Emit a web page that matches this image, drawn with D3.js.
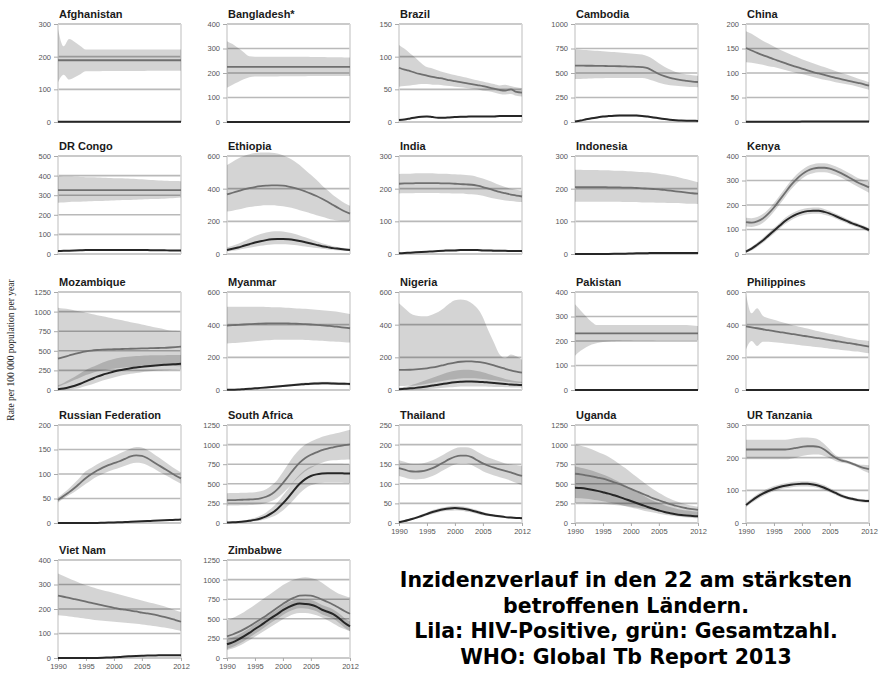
<!DOCTYPE html>
<html>
<head>
<meta charset="utf-8">
<script src="https://cdn.jsdelivr.net/npm/d3@7/dist/d3.min.js"></script>
<style>
  html, body { margin: 0; padding: 0; background: #fff; }
  svg { display: block; }
</style>
</head>
<body>
<svg id="chart" width="880" height="677"></svg>
<script>
// TB incidence 1990-2012 in the 22 high-burden countries (rate per 100 000 per year)
const years = [1990,1991,1992,1993,1994,1995,1996,1997,1998,1999,2000,2001,2002,2003,2004,2005,2006,2007,2008,2009,2010,2011,2012];
const xTicks = [1990, 1995, 2000, 2005, 2012];

const countries = ["Afghanistan","Bangladesh*","Brazil","Cambodia","China",
  "DR Congo","Ethiopia","India","Indonesia","Kenya",
  "Mozambique","Myanmar","Nigeria","Pakistan","Philippines",
  "Russian Federation","South Africa","Thailand","Uganda","UR Tanzania",
  "Viet Nam","Zimbabwe"];

const yMax  = [300,400,150,1000,200, 500,600,300,300,400, 1250,600,600,400,600, 200,1250,250,1250,300, 400,1250];
const yStep = [100,100,50,250,50, 100,200,100,100,100, 250,200,200,100,200, 50,250,50,250,100, 100,250];

// all TB cases: best estimate, lower and upper bound
const totalMid = [
  [189,189,189,189,189,189,189,189,189,189,189,189,189,189,189,189,189,189,189,189,189,189,189],
  [225,225,225,225,225,225,225,225,225,225,225,225,225,225,225,225,225,225,225,225,225,225,225],
  [83,80,78,75,73,71,69,67.5,66,64,62.5,61,59.5,58,56.5,55,53,51,49,48,50,46,45],
  [575,575,574,574,573,572,571,570,569,567,565,563,560,550,520,490,468,450,438,428,420,412,408],
  [151,146,141,136.5,132.5,128,124,120,116,112.5,109,105.5,102,99,96,93,90,87.5,85,82.5,80,77.5,74],
  [326,326,326,326,326,326,326,326,326,326,326,326,326,326,326,326,326,326,326,326,326,326,326],
  [365,375,385,395,403,410,415,418,420,420,418,413,405,395,383,370,355,338,320,300,280,262,247],
  [215,216,216,217,217,217,217,217,216,216,215,214,213,212,209,205,200,195,190,186,182,179,176],
  [205,205,205,205,205,205,204,204,204,203,203,202,201,200,199,198,196,194,192,190,188,186,185],
  [130,128,133,145,165,190,220,250,280,305,325,340,348,352,352,348,340,330,318,305,292,282,272],
  [400,420,440,460,478,492,503,510,515,518,520,522,524,526,528,530,532,534,536,538,542,547,552],
  [395,397,399,401,403,405,406,407,408,408,408,407,406,405,403,401,399,396,393,390,386,382,378],
  [123,123,124,126,129,133,138,145,153,161,168,173,175,175,172,167,160,151,140,130,120,112,106],
  [231,231,231,231,231,231,231,231,231,231,231,231,231,231,231,231,231,231,231,231,231,231,231],
  [390,384,378,372,366,361,355,350,344,339,333,328,322,317,311,306,300,295,289,284,278,272,266],
  [47,55,63,72,82,92,100,107,113,118,122,126,131,136,138,137,132,125,118,111,104,97,91],
  [290,292,294,297,300,305,315,335,370,430,510,600,690,770,830,870,900,930,950,965,980,992,1003],
  [140,136,132,131,132,135,140,147,155,163,169,172,172,168,160,152,146,141,137,133,129,124,120],
  [628,620,608,595,580,565,545,520,495,465,435,405,375,345,315,290,265,240,220,202,188,176,168],
  [225,225,225,225,225,225,225,225,227,230,233,235,235,233,225,212,200,192,188,182,175,169,165],
  [255,250,245,240,235,230,225,220,215,210,205,200,197,193,190,185,182,178,173,168,162,155,148],
  [277,300,330,365,405,450,495,540,590,640,690,735,770,795,800,795,775,745,715,680,640,600,564]
];
const totalLo = [
  [122,145,130,137,146,155,155,155,156,156,156,156,156,156,156,156,157,157,157,157,157,157,157],
  [140,152,163,174,183,186,186,186,186,186,187,187,187,187,187,188,188,188,188,188,188,188,188],
  [54,55,56,57,58,58,57,57,56,55,54,53,52,51,50,48,47,45,43,42,43,40,39],
  [438,440,442,444,446,447,448,449,450,450,450,449,448,440,420,400,385,375,370,365,360,356,354],
  [122,121,119,117,114,112,109,106,103,100,98,95,92,89,86,84,81,79,77,75,72,69,66],
  [262,263,265,266,267,268,269,270,271,272,273,274,275,276,277,278,279,280,281,282,284,286,288],
  [260,265,272,280,287,292,296,298,298,296,292,286,278,268,258,248,238,228,218,210,205,203,202],
  [185,186,186,187,187,187,187,187,186,186,185,185,184,183,181,178,174,170,167,164,162,160,159],
  [160,160,160,160,160,160,160,160,160,159,159,159,158,158,158,157,157,156,156,155,154,154,153],
  [112,110,115,127,147,172,202,232,262,287,307,322,330,334,334,330,322,312,300,287,274,262,250],
  [40,70,100,130,160,190,215,235,250,262,272,280,286,292,296,300,302,304,306,308,310,306,302],
  [285,287,290,293,296,299,302,304,306,307,308,308,308,307,306,305,303,301,299,297,295,293,291],
  [25,25,26,28,32,38,44,50,56,62,66,70,72,72,70,67,63,59,55,51,48,45,43],
  [140,160,175,186,192,196,198,199,200,201,201,202,202,202,202,203,203,203,203,203,203,203,203],
  [250,300,270,295,295,292,289,285,281,277,273,269,265,261,257,253,249,245,242,238,235,230,225],
  [42,50,57,64,72,80,88,95,100,105,109,113,117,121,123,122,118,112,105,99,93,86,80],
  [220,222,224,226,229,233,240,255,280,320,380,450,530,600,660,700,740,770,790,800,805,808,810],
  [120,116,112,111,112,115,120,127,135,143,149,152,152,148,140,132,126,121,117,113,108,102,96],
  [256,255,253,250,246,242,237,231,224,216,207,197,186,175,164,153,142,132,122,114,107,100,95],
  [195,195,195,195,195,195,195,195,197,200,205,208,210,210,205,198,190,185,182,177,170,160,153],
  [175,172,169,166,163,160,157,154,152,150,148,146,144,142,140,137,134,131,128,124,120,115,110],
  [100,120,150,185,225,270,315,360,405,450,495,530,560,575,575,565,545,515,480,440,400,370,340]
];
const totalHi = [
  [285,232,254,245,233,222,222,222,222,222,222,222,222,222,222,222,222,222,222,222,222,222,222],
  [330,318,302,285,268,266,266,266,266,266,266,266,266,266,266,265,265,265,264,264,264,263,263],
  [118,112,105,98,90,84,82,79,76,74,72,70,68,66,64,62,60,58,56,57,55,53,52],
  [742,738,734,730,726,722,718,714,710,705,700,695,690,670,640,600,565,535,510,495,485,478,472],
  [185,180,173,166,160,154,148,143,138,133,128,124,120,116,112,108,104,100,97,93,89,85,81],
  [397,396,395,394,393,392,391,390,389,388,387,386,385,384,383,381,379,377,375,374,373,372,371],
  [545,565,585,600,610,618,622,622,620,615,605,590,570,545,515,485,455,420,390,360,335,312,296],
  [245,246,246,247,247,247,247,246,246,245,244,243,242,240,236,231,225,218,211,205,200,197,194],
  [258,258,257,257,257,256,256,255,255,254,253,252,251,250,248,246,243,240,237,233,229,224,220],
  [148,146,151,163,183,208,238,268,298,323,343,358,366,370,370,366,358,348,336,323,310,302,296],
  [1050,1040,1030,1015,1000,985,970,955,940,925,910,895,880,865,850,835,820,805,790,775,760,755,750],
  [510,510,510,510,510,510,509,508,507,506,505,503,501,499,497,494,491,488,485,482,478,472,466],
  [531,500,470,456,452,452,462,477,500,529,550,554,550,531,500,446,362,290,218,196,217,206,185],
  [350,325,300,278,265,265,265,265,265,265,265,265,265,265,265,265,265,265,265,265,265,263,261],
  [590,470,500,455,440,430,420,410,400,392,384,376,368,360,352,344,337,330,322,315,308,304,300],
  [52,61,71,82,94,106,113,120,126,131,136,142,147,152,155,154,149,142,134,126,118,110,103],
  [380,382,383,385,388,393,405,430,480,550,650,760,860,940,1000,1040,1070,1100,1120,1135,1150,1170,1190],
  [160,156,152,151,152,155,160,167,175,183,190,193,193,190,182,174,167,162,157,152,150,148,146],
  [1000,985,965,940,910,880,845,800,750,700,645,590,535,480,430,385,345,310,280,255,235,220,208],
  [255,255,255,255,255,255,255,255,257,260,262,262,260,255,242,225,208,198,192,186,180,178,177],
  [345,335,325,315,305,297,290,283,277,271,265,259,253,247,241,235,229,223,217,211,203,195,188],
  [480,510,545,585,630,680,730,780,830,880,930,970,1000,1020,1030,1020,1000,960,910,860,820,795,772]
];

// HIV-positive TB cases: best estimate, lower and upper bound
const hivMid = [
  [0.5,0.5,0.5,0.5,0.5,0.5,0.5,0.5,0.5,0.5,0.5,0.5,0.5,0.5,0.5,0.5,0.5,0.5,0.5,0.5,0.5,0.5,0.5],
  [0.3,0.3,0.3,0.3,0.3,0.3,0.3,0.3,0.3,0.3,0.3,0.3,0.3,0.3,0.3,0.3,0.3,0.3,0.3,0.3,0.3,0.3,0.3],
  [3,4,5.5,7,8,8.5,7.5,6.5,6.5,7,7.5,8,8,8.5,8.5,8.5,8.5,8.5,9,9,9,9,9],
  [5,15,27,38,47,55,60,64,66,67,67,66,62,55,47,38,30,24,19,15,13,12,11],
  [0.5,0.5,0.5,0.5,0.5,0.5,0.5,0.5,0.5,0.5,0.8,0.8,0.8,0.8,1,1,1,1,1,1,1,1,1],
  [15,16,17,18,19,20,20,21,21,21,21,21,21,21,20,20,20,19,19,19,18,18,18],
  [25,32,40,50,60,70,78,85,90,92,92,90,86,80,72,64,56,48,42,36,32,28,25],
  [2,3,4,5,6,7,8,9,10,11,11,12,12,12,12,11,11,10,10,10,9,9,9],
  [0.3,0.3,0.3,0.3,0.3,0.3,0.3,0.5,1,1,1.5,2,2,2.5,3,3,3,3,3,3,3,3,3],
  [10,22,38,55,75,95,115,135,150,162,170,175,177,177,172,165,155,145,135,125,117,108,98],
  [10,20,35,55,80,110,140,170,195,215,235,252,265,277,287,295,303,310,316,321,326,330,334],
  [1,2,3,5,7,10,13,16,19,22,25,28,31,34,37,39,40,41,41,40,39,38,37],
  [5,7,10,13,17,22,27,32,38,43,47,50,52,52,51,49,46,43,40,37,34,32,30],
  [0.3,0.3,0.3,0.3,0.3,0.3,0.3,0.3,0.3,0.3,0.3,0.3,0.3,0.3,0.3,0.3,0.3,0.3,0.3,0.3,0.3,0.3,0.3],
  [0.5,0.5,0.5,0.5,0.5,0.5,0.5,0.5,0.5,0.5,0.5,0.5,0.5,0.5,0.5,0.5,0.5,0.5,0.5,0.5,0.5,0.5,0.5],
  [0,0,0,0,0,0,0,0,0.5,1,1,1.5,2,2.5,3,3.5,4,4.5,5,5.5,6,6.5,7],
  [5,8,12,18,28,40,58,85,125,180,250,330,420,500,560,600,620,630,635,635,635,632,630],
  [2,5,9,13,18,23,28,32,35,37,38,37,35,32,28,24,21,19,17,15,14,13,12],
  [450,445,437,425,410,393,375,353,330,305,280,255,230,205,182,160,140,125,112,102,95,90,85],
  [55,68,80,90,98,105,110,114,117,119,120,120,118,114,108,100,92,84,78,74,70,68,67],
  [0.3,0.3,0.3,0.3,0.3,0.3,0.3,0.5,1,2,3,4,6,7,8,9,10,10,11,11,11,11,11],
  [175,200,235,275,320,370,415,465,515,560,610,650,680,694,690,680,655,615,590,560,510,450,404]
];
const hivLo = [
  [0,0,0,0,0,0,0,0,0,0,0,0,0,0,0,0,0,0,0,0,0,0,0],
  [0,0,0,0,0,0,0,0,0,0,0,0,0,0,0,0,0,0,0,0,0,0,0],
  [2,3,4.5,6,7,7.5,6.5,5.5,5.5,6,6.5,7,7,7.5,7.5,7.5,7.5,7.5,8,8,8,8,8],
  [2,10,20,30,38,45,50,54,56,57,57,56,52,46,39,31,24,19,15,12,10,9,8],
  [0,0,0,0,0,0,0,0,0,0,0.5,0.5,0.5,0.5,0.5,0.5,0.5,0.5,0.5,0.5,0.5,0.5,0.5],
  [12,13,14,15,16,17,17,18,18,18,18,18,18,18,17,17,17,16,16,16,15,15,15],
  [15,20,25,32,38,44,50,55,58,60,60,58,55,51,46,41,36,32,28,25,22,20,18],
  [1,2,3,4,5,6,6,7,8,8,9,9,9,9,9,9,8,8,8,8,7,7,7],
  [0,0,0,0,0,0,0,0,0.5,0.5,1,1,1,1.5,2,2,2,2,2,2,2,2,2],
  [4,14,29,45,64,83,103,122,137,149,157,162,164,164,160,154,145,135,126,116,108,100,90],
  [0,0,5,15,30,50,70,95,120,140,160,180,195,208,218,228,236,243,248,252,256,259,262],
  [0,1,2,3,5,7,9,12,14,16,19,21,24,26,28,30,31,32,32,31,30,29,28],
  [0,0,1,2,3,5,8,11,14,17,19,21,22,22,22,21,20,19,18,17,16,15,14],
  [0,0,0,0,0,0,0,0,0,0,0,0,0,0,0,0,0,0,0,0,0,0,0],
  [0,0,0,0,0,0,0,0,0,0,0,0,0,0,0,0,0,0,0,0,0,0,0],
  [0,0,0,0,0,0,0,0,0,0.5,0.5,1,1.5,2,2.5,3,3.5,4,4.5,5,5,5.5,6],
  [2,4,6,10,15,22,32,50,75,110,160,225,300,380,440,480,500,510,512,512,512,510,508],
  [1,3,6,10,14,19,23,27,30,31,32,31,29,27,23,20,18,16,14,13,12,11,10],
  [320,316,310,300,290,277,263,248,232,215,198,181,164,148,133,119,106,95,85,77,70,65,60],
  [48,61,72,82,90,97,102,106,109,111,112,112,110,106,100,93,86,78,73,69,65,63,62],
  [0,0,0,0,0,0,0,0,0.5,1,2,3,4,5,6,7,8,8,9,9,9,9,9],
  [115,140,175,215,260,310,355,405,455,500,550,590,620,634,630,620,595,555,530,500,450,390,344]
];
const hivHi = [
  [1,1,1,1,1,1,1,1,1,1,1,1,1,1,1,1,1,1,1,1,1,1,1],
  [0.6,0.6,0.6,0.6,0.6,0.6,0.6,0.6,0.6,0.6,0.6,0.6,0.6,0.6,0.6,0.6,0.6,0.6,0.6,0.6,0.6,0.6,0.6],
  [4,5,6.5,8,9,9.5,8.5,7.5,7.5,8,8.5,9,9,9.5,9.5,9.5,9.5,9.5,10,10,10,10,10],
  [8,20,34,46,56,65,70,74,76,77,77,76,72,64,55,45,36,29,23,18,16,15,14],
  [1,1,1,1,1,1,1,1,1,1,1.2,1.2,1.2,1.2,1.5,1.5,1.5,1.5,1.5,1.5,1.5,1.5,1.5],
  [18,19,20,21,22,23,23,24,24,24,24,24,24,24,23,23,23,22,22,22,21,21,21],
  [40,50,62,78,95,110,122,132,138,140,138,132,124,114,102,90,78,66,56,48,42,37,33],
  [3,4,5,6,7,8,10,11,12,14,14,15,15,15,15,14,14,13,13,12,12,12,12],
  [0.6,0.6,0.6,0.6,0.6,0.6,0.6,1,1.5,1.5,2,3,3,3.5,4,4,4,4,4,4,4,4,4],
  [16,30,47,65,86,107,127,148,163,175,183,188,190,190,184,176,165,155,144,134,126,116,106],
  [60,90,130,170,215,255,290,320,350,375,395,410,420,428,434,438,440,442,444,444,445,445,445],
  [2,3,4,7,9,13,17,20,24,28,31,35,38,42,46,48,49,50,50,49,48,47,46],
  [15,20,28,38,50,62,75,88,100,110,118,122,124,122,116,108,98,88,78,68,60,54,50],
  [0.6,0.6,0.6,0.6,0.6,0.6,0.6,0.6,0.6,0.6,0.6,0.6,0.6,0.6,0.6,0.6,0.6,0.6,0.6,0.6,0.6,0.6,0.6],
  [1,1,1,1,1,1,1,1,1,1,1,1,1,1,1,1,1,1,1,1,1,1,1],
  [0.5,0.5,0.5,0.5,0.5,0.5,0.5,0.5,1,1.5,1.5,2,2.5,3,3.5,4,4.5,5,5.5,6,7,7.5,8],
  [10,15,22,32,48,68,95,135,190,260,350,440,540,620,680,720,740,750,755,755,755,752,750],
  [3,7,12,16,22,27,33,37,40,43,44,43,41,37,33,28,24,22,20,17,16,15,14],
  [720,705,690,670,645,618,590,555,520,480,440,400,360,320,285,255,228,205,185,170,158,150,142],
  [62,75,88,98,106,113,118,122,125,127,128,128,126,122,116,107,98,90,83,79,75,73,72],
  [0.6,0.6,0.6,0.6,0.6,0.6,0.6,1,1.5,3,4,5,8,9,10,11,12,12,13,13,13,13,13],
  [235,260,295,335,380,430,475,525,575,620,670,710,740,754,750,740,715,675,650,620,570,510,464]
];

// small-multiple grid
const colX = [58, 227, 399, 575, 746];
const rowY = [24, 156, 292, 425, 560];
const panelW = 123, panelH = 98;
const lastRowStart = 17; // panels from here on carry year labels

const svg = d3.select("#chart");

const x = d3.scaleLinear().domain([1990, 2012]).range([0, panelW]);

countries.forEach((name, i) => {
  const row = Math.floor(i / 5), col = i % 5;
  const g = svg.append("g").attr("transform", `translate(${colX[col]},${rowY[row]})`);
  const y = d3.scaleLinear().domain([0, yMax[i]]).range([panelH, 0]);
  const tickVals = d3.range(0, yMax[i] + 1, yStep[i]);

  // gridlines
  g.append("g")
    .selectAll("line")
    .data(tickVals)
    .join("line")
    .attr("x1", 0).attr("x2", panelW)
    .attr("y1", d => y(d)).attr("y2", d => y(d))
    .attr("stroke", "#b9b9b9")
    .attr("stroke-width", 1.6);

  // left and right frame
  g.append("line").attr("x1", 0).attr("x2", 0).attr("y1", 0).attr("y2", panelH)
    .attr("stroke", "#d6d6d6").attr("stroke-width", 1.6);
  g.append("line").attr("x1", panelW).attr("x2", panelW).attr("y1", 0).attr("y2", panelH)
    .attr("stroke", "#d6d6d6").attr("stroke-width", 1.6);

  // y axis labels with short ticks
  const yAxis = d3.axisLeft(y).tickValues(tickVals).tickSize(4).tickPadding(3).tickFormat(d3.format("d"));
  const ya = g.append("g").call(yAxis);
  ya.select(".domain").remove();
  ya.selectAll(".tick line").attr("stroke", "#aaa");
  ya.selectAll(".tick text")
    .attr("fill", "#555")
    .style("font-family", "'Liberation Sans Narrow', 'Liberation Sans', sans-serif")
    .style("font-size", "7.5px");

  // x axis labels on the bottom panel of each column
  if (i >= lastRowStart) {
    const xAxis = d3.axisBottom(x).tickValues(xTicks).tickSize(3).tickPadding(3).tickFormat(d3.format("d"));
    const xa = g.append("g").attr("transform", `translate(0,${panelH})`).call(xAxis);
    xa.select(".domain").remove();
    xa.selectAll(".tick line").attr("stroke", "#aaa");
    xa.selectAll(".tick text")
      .attr("fill", "#555")
      .style("font-family", "'Liberation Sans Narrow', 'Liberation Sans', sans-serif")
      .style("font-size", "7.5px");
  }

  const idx = years.map((yr, k) => k);
  const band = (lo, hi) => d3.area()
    .x(k => x(years[k]))
    .y0(k => y(lo[i][k]))
    .y1(k => y(hi[i][k]))
    .curve(d3.curveMonotoneX);
  const line = (mid) => d3.line()
    .x(k => x(years[k]))
    .y(k => y(mid[i][k]))
    .curve(d3.curveMonotoneX);

  // uncertainty bands (translucent so overlaps darken)
  g.append("path").attr("d", band(totalLo, totalHi)(idx))
    .attr("fill", "#000").attr("fill-opacity", 0.17);
  g.append("path").attr("d", band(hivLo, hivHi)(idx))
    .attr("fill", "#000").attr("fill-opacity", 0.17);

  // best estimates
  g.append("path").attr("d", line(totalMid)(idx))
    .attr("fill", "none").attr("stroke", "#6f6f6f").attr("stroke-width", 1.8);
  g.append("path").attr("d", line(hivMid)(idx))
    .attr("fill", "none").attr("stroke", "#262626").attr("stroke-width", 2);

  // panel title
  g.append("text")
    .attr("x", 1).attr("y", -6)
    .attr("fill", "#1a1a1a")
    .style("font-family", "'Liberation Sans', Arial, sans-serif")
    .style("font-weight", "bold")
    .style("font-size", "11px")
    .text(name);
});

// shared y axis title
svg.append("text")
  .attr("transform", "translate(14,350) rotate(-90)")
  .attr("text-anchor", "middle")
  .attr("fill", "#222")
  .style("font-family", "'Liberation Serif', serif")
  .style("font-size", "9.5px")
  .text("Rate per 100 000 population per year");

// caption
const caption = [
  "Inzidenzverlauf in den 22 am stärksten",
  "betroffenen Ländern.",
  "Lila: HIV-Positive, grün: Gesamtzahl.",
  "WHO: Global Tb Report 2013"
];
svg.append("g").selectAll("text")
  .data(caption)
  .join("text")
  .attr("x", 626)
  .attr("y", (d, k) => 587 + k * 25.7)
  .attr("text-anchor", "middle")
  .attr("fill", "#000")
  .style("font-family", "'DejaVu Sans', Verdana, sans-serif")
  .style("font-weight", "bold")
  .style("font-size", "20.5px")
  .text(d => d);
</script>
</body>
</html>
